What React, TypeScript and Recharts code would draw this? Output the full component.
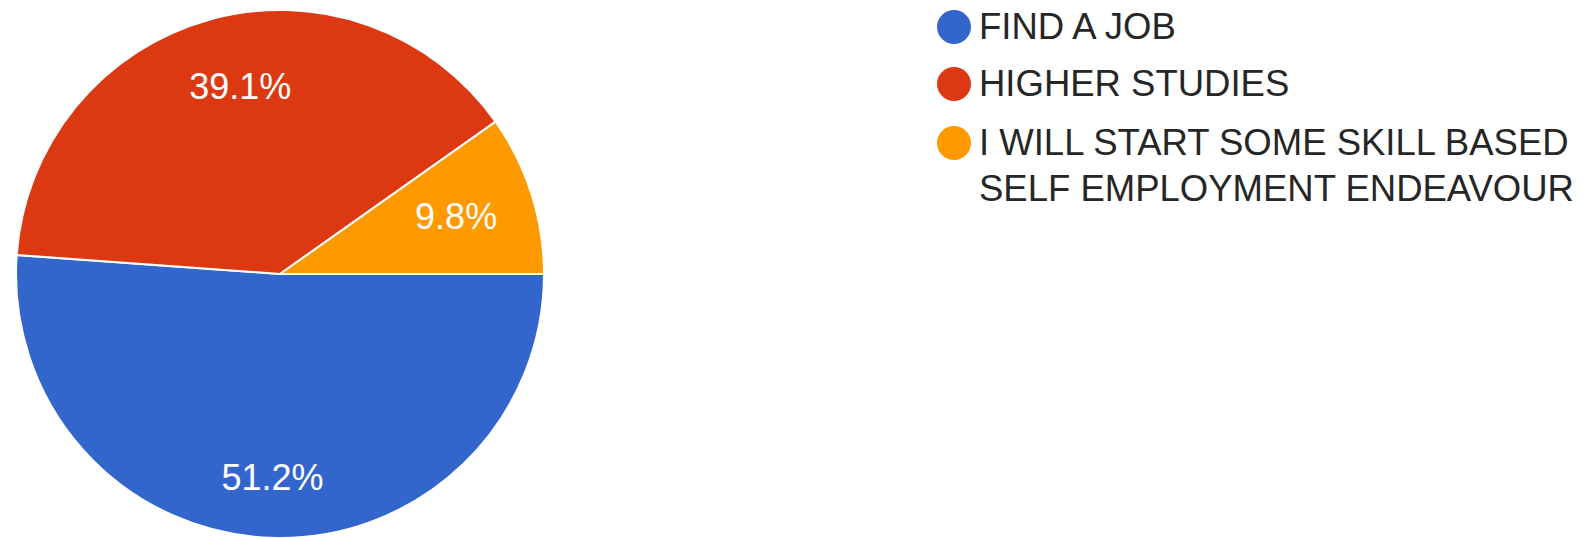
import { PieChart, Pie, Cell, Legend } from 'recharts';

const CATEGORIES = ['FIND A JOB', 'HIGHER STUDIES', 'I WILL START SOME SKILL BASED SELF EMPLOYMENT ENDEAVOUR'];
const SHARES = [51.2, 39.1, 9.8];
const COLORS = ['#3366CC', '#DC3912', '#FF9900'];

const data = CATEGORIES.map((name, i) => ({ name, value: SHARES[i] }));

const FONT = '"Liberation Sans", Arial, sans-serif';
const RADIAN = Math.PI / 180;
// label placement per slice: distance as share of radius, and angle nudge (deg)
const LABEL_R = [0.78, 0.72, 0.7];
const LABEL_TURN = [0, -3.5, 0];

function renderLabel(props: any) {
  const { cx, cy, midAngle, outerRadius, value, index } = props;
  const r = outerRadius * LABEL_R[index];
  const a = (midAngle + LABEL_TURN[index]) * RADIAN;
  const x = cx + r * Math.cos(-a);
  const y = cy + r * Math.sin(-a);
  return (
    <text
      x={x}
      y={y - 2}
      fill="#ffffff"
      textAnchor="middle"
      dominantBaseline="central"
      fontFamily={FONT}
      fontSize={36}
    >
      {`${value}%`}
    </text>
  );
}

const ITEM_TOPS = [-4, 53, 112];

function renderLegend() {
  return (
    <div style={{ position: 'relative', width: 620, height: 220, fontFamily: FONT }}>
      {data.map((item, i) => (
        <div key={item.name} style={{ position: 'absolute', left: 0, top: ITEM_TOPS[i] }}>
          <div
            style={{
              position: 'absolute',
              left: -17,
              top: 23 - 17,
              width: 34,
              height: 34,
              borderRadius: '50%',
              backgroundColor: COLORS[i],
            }}
          />
          <div
            style={{
              position: 'absolute',
              left: 25,
              top: 0,
              width: 600,
              fontSize: 36.5,
              lineHeight: '46px',
              color: '#262626',
              whiteSpace: 'normal',
            }}
          >
            {item.name}
          </div>
        </div>
      ))}
    </div>
  );
}

export default function App() {
  return (
    <PieChart width={1581} height={531} margin={{ top: 0, right: 0, bottom: 0, left: 0 }}>
      <Pie
        data={data}
        dataKey="value"
        nameKey="name"
        cx={272}
        cy={266}
        outerRadius={264}
        startAngle={0}
        endAngle={-360}
        stroke="#ffffff"
        strokeWidth={2}
        label={renderLabel}
        labelLine={false}
        isAnimationActive={false}
      >
        {data.map((entry, index) => (
          <Cell key={`cell-${index}`} fill={COLORS[index]} />
        ))}
      </Pie>
      <Legend
        content={renderLegend}
        wrapperStyle={{ position: 'absolute', left: 946, top: 0, width: 630 }}
      />
    </PieChart>
  );
}
